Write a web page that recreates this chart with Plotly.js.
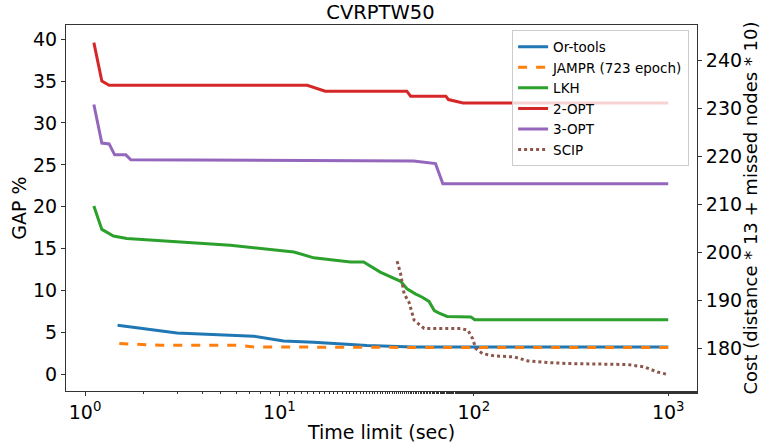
<!DOCTYPE html>
<html>
<head>
<meta charset="utf-8">
<script src="https://cdn.plot.ly/plotly-3.0.1.min.js"></script>
<style>html,body{margin:0;padding:0;background:#fff;}#chart{width:761px;height:447px;}</style>
</head>
<body>
<div id="chart"></div>
<script>
// Time limits (sec) and GAP % values
const orTime   = [1.47, 2.97, 7.37, 10.5, 15.0, 20.6, 28.2, 49.0, 1000];
const orGap    = [5.85, 4.93, 4.54, 3.98, 3.82, 3.58, 3.42, 3.25, 3.25];

const jamprTime = [1.5, 2.44, 6.05, 7.4, 100, 1000];
const jamprGap  = [3.67, 3.46, 3.46, 3.26, 3.18, 3.18];

const lkhTime = [1.11, 1.22, 1.40, 1.64, 5.59, 11.87, 15.0, 23.2, 27.1, 33.0, 42.0, 45.3, 50.0, 54.3, 58.8, 62.6, 66.3, 72.9, 96.5, 101, 1000];
const lkhGap  = [20.1, 17.3, 16.5, 16.2, 15.4, 14.6, 13.9, 13.4, 13.4, 12.2, 11.1, 10.2, 9.6, 9.2, 8.7, 7.6, 7.3, 6.9, 6.85, 6.5, 6.5];

const opt2Time = [1.11, 1.22, 1.33, 13.9, 17.2, 45.2, 47.3, 71.7, 74, 88, 1000];
const opt2Gap  = [39.6, 35.0, 34.5, 34.5, 33.8, 33.8, 33.2, 33.2, 32.8, 32.4, 32.4];

const opt3Time = [1.11, 1.22, 1.33, 1.42, 1.62, 1.72, 26.1, 49.0, 63.5, 69.3, 1000];
const opt3Gap  = [32.2, 27.6, 27.5, 26.2, 26.2, 25.6, 25.5, 25.45, 25.15, 22.75, 22.75];

const scipTime = [40.3, 42.0, 43.8, 46.4, 49.3, 55.5, 85.3, 93.2, 98.5, 102.4, 110.8, 127.4, 161.8, 189.3, 239, 303, 619, 753, 880, 1000];
const scipGap  = [13.5, 12.0, 9.6, 8.6, 6.45, 5.46, 5.46, 5.26, 4.27, 3.07, 2.47, 2.19, 2.07, 1.59, 1.40, 1.28, 1.16, 0.87, 0.27, -0.05];

const seriesNames = ['Or-tools', 'JAMPR (723 epoch)', 'LKH', '2-OPT', '3-OPT', 'SCIP'];
const xTickVals = [1, 10, 100, 1000];
const xTickText = ['10<sup>0</sup>', '10<sup>1</sup>', '10<sup>2</sup>', '10<sup>3</sup>'];
const costTicks = [180, 190, 200, 210, 220, 230, 240];

const colors = ['#1f77b4', '#ff7f0e', '#2ca02c', '#d62728', '#9467bd', '#8c564b'];
const dashes = ['solid', 'dash', 'solid', 'solid', 'solid', 'dot'];
const xs = [orTime, jamprTime, lkhTime, opt2Time, opt3Time, scipTime];
const ys = [orGap, jamprGap, lkhGap, opt2Gap, opt3Gap, scipGap];

const traces = seriesNames.map((n, i) => ({
  x: xs[i], y: ys[i], name: n, type: 'scatter', mode: 'lines',
  line: {color: colors[i], width: 3, dash: dashes[i]}
}));
// helper trace so the right-hand cost axis is drawn
traces.push({x: [1, 1000], y: [costTicks[0], costTicks[costTicks.length - 1]], yaxis: 'y2', type: 'scatter', mode: 'lines',
  line: {width: 0, color: 'rgba(0,0,0,0)'}, showlegend: false, hoverinfo: 'skip'});

const font = 'DejaVu Sans, sans-serif';
const layout = {
  width: 761, height: 447,
  margin: {l: 66, r: 64, t: 25, b: 56, pad: 0},
  paper_bgcolor: '#fff', plot_bgcolor: '#fff',
  font: {family: font, color: '#000', size: 19},
  title: {text: 'CVRPTW50', font: {family: font, size: 19.5, color: '#000'}, x: 0.5, xanchor: 'center', y: 0.972, yanchor: 'middle', yref: 'container'},
  showlegend: true,
  legend: {x: 0.707, y: 0.985, xanchor: 'left', yanchor: 'top', bgcolor: 'rgba(255,255,255,0.8)', bordercolor: '#cccccc', borderwidth: 1,
    font: {family: font, size: 13.5, color: '#000'}, tracegroupgap: 0},
  xaxis: {type: 'log', range: [-0.098, 3.148], tickvals: xTickVals, ticktext: xTickText,
    showgrid: false, zeroline: false, showline: true, linecolor: '#333', linewidth: 1, mirror: true,
    ticks: 'outside', ticklen: 4, tickwidth: 1, tickcolor: '#333',
    minor: {ticks: 'outside', ticklen: 2, tickcolor: '#333', tickwidth: 1, showgrid: false},
    tickfont: {family: font, size: 19},
    title: {text: 'Time limit (sec)', font: {family: font, size: 19}, standoff: 3}},
  yaxis: {range: [-2.0, 41.7], dtick: 5, tick0: 0, showgrid: false, zeroline: false, showline: true, linecolor: '#333', linewidth: 1,
    ticks: 'outside', ticklen: 4, tickwidth: 1, tickcolor: '#333', tickfont: {family: font, size: 19},
    title: {text: 'GAP %', font: {family: font, size: 19}, standoff: 1}},
  yaxis2: {overlaying: 'y', side: 'right', range: [171.1, 247.4], tickvals: costTicks, showgrid: false, zeroline: false,
    showline: true, linecolor: '#333', linewidth: 1, ticks: 'outside', ticklen: 4, tickwidth: 1, tickcolor: '#333',
    tickfont: {family: font, size: 19},
    title: {text: 'Cost (distance * 13 + missed nodes * 10)', font: {family: font, size: 18}, standoff: 4}}
};
Plotly.newPlot('chart', traces, layout, {displayModeBar: false, staticPlot: true});
</script>
</body>
</html>
